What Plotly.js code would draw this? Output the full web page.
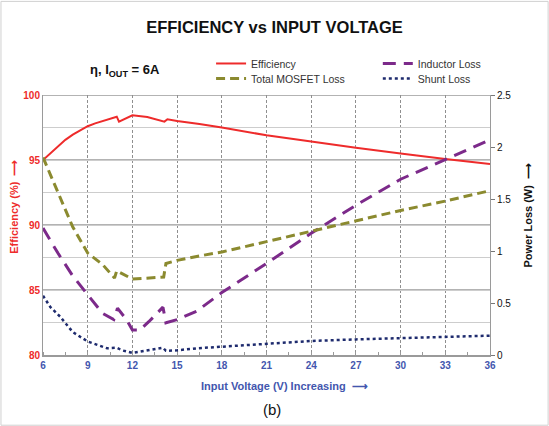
<!DOCTYPE html>
<html><head><meta charset="utf-8">
<script src="https://cdn.plot.ly/plotly-3.0.1.min.js"></script>
<style>html,body{margin:0;padding:0;background:#fff;}#c{width:549px;height:426px;}</style>
</head><body><div id="c"></div>
<script>
// Data
const effX = [6, 6.5, 7, 7.5, 8, 8.5, 9, 9.5, 10, 10.5, 10.95, 11.1, 12, 13, 14.15, 14.35, 15, 16.5, 18, 21, 24, 27, 30, 33, 36];
const effY = [95.0, 95.5, 96.0, 96.55, 96.95, 97.3, 97.6, 97.82, 98.0, 98.18, 98.33, 97.95, 98.44, 98.3, 97.95, 98.13, 98.0, 97.77, 97.5, 96.9, 96.4, 95.95, 95.5, 95.07, 94.7];

const mosX = [6, 7, 7.55, 8, 9, 10, 10.8, 10.95, 12, 14.1, 14.25, 15, 16.4, 18, 21, 24, 27, 30, 33, 36];
const mosY = [1.90, 1.57, 1.39, 1.23, 0.98, 0.87, 0.74, 0.81, 0.73, 0.75, 0.88, 0.91, 0.95, 0.99, 1.09, 1.19, 1.29, 1.39, 1.48, 1.58];

const indX = [6, 7, 8, 9, 10, 10.75, 11.0, 11.6, 12, 12.5, 13.1, 14.05, 14.25, 15, 16.3, 18, 21, 24, 27, 30, 33, 36];
const indY = [1.22, 0.98, 0.76, 0.58, 0.40, 0.34, 0.45, 0.34, 0.24, 0.24, 0.32, 0.46, 0.31, 0.34, 0.42, 0.60, 0.88, 1.17, 1.44, 1.69, 1.88, 2.07];

const shX = [6, 6.5, 7.14, 8, 9, 10.3, 10.95, 11.3, 12, 13.1, 14.05, 14.25, 15, 16.3, 18, 21, 24, 27, 30, 33, 36];
const shY = [0.57, 0.46, 0.37, 0.22, 0.13, 0.065, 0.07, 0.045, 0.02, 0.048, 0.07, 0.04, 0.045, 0.064, 0.08, 0.11, 0.135, 0.15, 0.163, 0.176, 0.186];

const xTicks = [6, 9, 12, 15, 18, 21, 24, 27, 30, 33, 36];
const effTicks = [80, 82.5, 85, 87.5, 90, 92.5, 95, 97.5, 100];
const effTickText = ['80', '', '85', '', '90', '', '95', '', '100'];
const effMajorTicks = [85, 90, 95, 100];
const lossTicks = [0, 0.5, 1, 1.5, 2, 2.5];
const lossTickText = ['0', '0.5', '1', '1.5', '2', '2.5'];

const FONT = 'Liberation Sans, Arial, Helvetica, sans-serif';
const RED = '#ee2b2b', OLIVE = '#8b8a2f', PURPLE = '#7c2a8a', NAVY = '#1e2b6e', BLUE = '#4356ae';

const traces = [
  {x: effX, y: effY, name: 'Efficiency', type: 'scatter', mode: 'lines',
   line: {color: RED, width: 2}, yaxis: 'y', legend: 'legend'},
  {x: indX, y: indY, name: 'Inductor Loss', type: 'scatter', mode: 'lines',
   line: {color: PURPLE, width: 3, dash: '13px,8px'}, yaxis: 'y2', legend: 'legend2'},
  {x: mosX, y: mosY, name: 'Total MOSFET Loss', type: 'scatter', mode: 'lines',
   line: {color: OLIVE, width: 3, dash: '9px,5px'}, yaxis: 'y2', legend: 'legend3'},
  {x: shX, y: shY, name: 'Shunt Loss', type: 'scatter', mode: 'lines',
   line: {color: NAVY, width: 2.5, dash: 'dot'}, yaxis: 'y2', legend: 'legend4'}
];

function leg(x, y) {
  return {x: x, xanchor: 'left', y: y, yanchor: 'top', orientation: 'v', bgcolor: 'rgba(0,0,0,0)',
          font: {family: FONT, size: 10.5, color: '#333'}, itemwidth: 30};
}

// darker major grid lines every 5 % (light lines every 2.5 % come from the axis grid)
const majorGrid = effMajorTicks.map(v => ({
  type: 'line', xref: 'paper', yref: 'y', x0: 0, x1: 1, y0: v, y1: v, layer: 'below',
  line: {color: '#9a9a9a', width: 1.6}
}));

const layout = {
  width: 549, height: 426,
  margin: {l: 43, r: 59, t: 95, b: 71},
  paper_bgcolor: '#fff', plot_bgcolor: 'rgba(0,0,0,0)',
  font: {family: FONT, size: 10, color: '#333'},
  title: {text: '<b>EFFICIENCY vs INPUT VOLTAGE</b>', x: 0.5, xanchor: 'center', y: 0.935, yanchor: 'middle',
          font: {family: FONT, size: 16.5, color: '#111'}},
  xaxis: {range: [6, 36], tickvals: xTicks, showgrid: true, gridcolor: '#8f8f8f', griddash: '3px,2px', gridwidth: 1,
          zeroline: false, showline: true, linecolor: '#9a9a9a', linewidth: 1.5, ticks: '',
          tickfont: {family: FONT, size: 10, color: BLUE, weight: 'bold'},
          minor: {dtick: 1.5, ticks: 'inside', ticklen: 3, tickcolor: '#999', showgrid: false}},
  yaxis: {range: [80, 100], tickvals: effTicks, ticktext: effTickText, showgrid: true, gridcolor: '#cdcdcd', gridwidth: 1,
          zeroline: false, showline: true, linecolor: '#9a9a9a', linewidth: 1, ticks: '',
          tickfont: {family: FONT, size: 10, color: RED, weight: 'bold'}},
  yaxis2: {range: [0, 2.5], tickvals: lossTicks, ticktext: lossTickText, overlaying: 'y', side: 'right',
           showgrid: false, zeroline: false, showline: true, linecolor: '#9a9a9a', linewidth: 1,
           ticks: 'outside', ticklen: 4, tickcolor: '#777',
           tickfont: {family: FONT, size: 10, color: '#111'}},
  showlegend: true,
  legend: leg(0.376, 1.177),
  legend2: leg(0.749, 1.177),
  legend3: leg(0.376, 1.119),
  legend4: leg(0.749, 1.119),
  annotations: [
    {xref: 'paper', yref: 'paper', x: 0.10, y: 1.095, xanchor: 'left', yanchor: 'middle', showarrow: false,
     text: '<b>η, I<sub>OUT</sub> = 6A</b>', font: {family: FONT, size: 13, color: '#111'}},
    {xref: 'paper', yref: 'paper', x: -0.065, y: 0.57, xanchor: 'center', yanchor: 'middle', showarrow: false,
     textangle: -90, text: '<b>Efficiency (%)  ⟶</b>', font: {family: FONT, size: 11, color: RED}},
    {xref: 'paper', yref: 'paper', x: 1.085, y: 0.54, xanchor: 'center', yanchor: 'middle', showarrow: false,
     textangle: -90, text: '<b>Power Loss (W)  ⟶</b>', font: {family: FONT, size: 11, color: '#111'}},
    {xref: 'paper', yref: 'paper', x: 0.54, y: -0.118, xanchor: 'center', yanchor: 'middle', showarrow: false,
     text: '<b>Input Voltage (V) Increasing  ⟶</b>', font: {family: FONT, size: 11, color: BLUE}},
    {xref: 'paper', yref: 'paper', x: 0.512, y: -0.208, xanchor: 'center', yanchor: 'middle', showarrow: false,
     text: '(b)', font: {family: FONT, size: 15, color: '#111'}}
  ],
  shapes: majorGrid.concat([
    {type: 'rect', xref: 'paper', yref: 'paper', x0: -0.094, x1: 1.13, y0: -0.27, y1: 1.36,
     line: {color: '#d0d0d0', width: 1}}
  ])
};

Plotly.newPlot('c', traces, layout, {displayModeBar: false, staticPlot: true});
</script></body></html>
